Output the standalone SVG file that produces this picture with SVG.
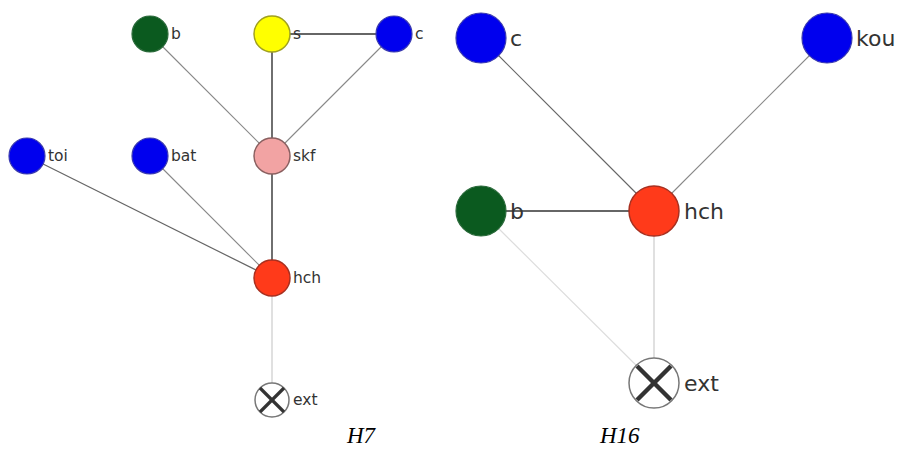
<svg xmlns="http://www.w3.org/2000/svg" width="901" height="449" viewBox="0 0 901 449">
<style>
.lbl{font-family:"DejaVu Sans",sans-serif;fill:#333}
.l1{font-size:15.5px}
.l2{font-size:22px}
.cap{font-family:"Liberation Serif",serif;font-style:italic;font-size:23px;fill:#000}
.blue{fill:#0000ee;stroke:#3a3ab0;stroke-width:1.2}
.green{fill:#0b5a1f;stroke:#2a6a3a;stroke-width:1.2}
.yellow{fill:#ffff00;stroke:#a0a020;stroke-width:1.5}
.pink{fill:#f2a3a3;stroke:#8a6060;stroke-width:1.5}
.red{fill:#ff3a1a;stroke:#a83020;stroke-width:1.5}
.ext{fill:#fff;stroke:#777;stroke-width:1.5}
.x{stroke:#333;stroke-width:3.2;stroke-linecap:butt}
.e-dark{stroke:#333;stroke-width:1.4}
.e-mid{stroke:#666;stroke-width:1.2}
.e-gray{stroke:#888;stroke-width:1.1}
.e-light{stroke:#ccc;stroke-width:1.2}
.e-vlight{stroke:#ddd;stroke-width:1.2}
</style>
<rect width="901" height="449" fill="#fff"/>
<g id="connectors">
<line class="e-gray" x1="150" y1="34" x2="272" y2="156"/>
<line class="e-dark" x1="272" y1="34" x2="272" y2="156"/>
<line class="e-gray" x1="394" y1="34" x2="272" y2="156"/>
<line class="e-dark" x1="272" y1="34" x2="394" y2="34"/>
<line class="e-dark" x1="272" y1="156" x2="272" y2="278"/>
<line class="e-mid" x1="27" y1="156" x2="272" y2="278"/>
<line class="e-gray" x1="150" y1="156" x2="272" y2="278"/>
<line class="e-light" x1="272" y1="278" x2="272" y2="400"/>
<line class="e-mid" x1="481" y1="38" x2="654" y2="211"/>
<line class="e-gray" x1="827" y1="38" x2="654" y2="211"/>
<line class="e-dark" x1="481" y1="211" x2="654" y2="211"/>
<line class="e-vlight" x1="481" y1="211" x2="654" y2="383"/>
<line class="e-light" x1="654" y1="211" x2="654" y2="383"/>
</g>
<g id="h7-b"><circle class="green" cx="150" cy="34" r="18"/><text class="lbl l1" x="171" y="39">b</text></g>
<g id="h7-s"><circle class="yellow" cx="272" cy="34" r="18"/><text class="lbl l1" x="293" y="39">s</text></g>
<g id="h7-c"><circle class="blue" cx="394" cy="34" r="18"/><text class="lbl l1" x="415" y="39">c</text></g>
<g id="h7-toi"><circle class="blue" cx="27" cy="156" r="18"/><text class="lbl l1" x="48" y="161">toi</text></g>
<g id="h7-bat"><circle class="blue" cx="150" cy="156" r="18"/><text class="lbl l1" x="171" y="161">bat</text></g>
<g id="h7-skf"><circle class="pink" cx="272" cy="156" r="18"/><text class="lbl l1" x="293" y="161">skf</text></g>
<g id="h7-hch"><circle class="red" cx="272" cy="278" r="18"/><text class="lbl l1" x="293" y="283">hch</text></g>
<g id="h7-ext"><circle class="ext" cx="272" cy="400" r="17"/><line class="x" x1="260" y1="388" x2="284" y2="412"/><line class="x" x1="284" y1="388" x2="260" y2="412"/><text class="lbl l1" x="293" y="405">ext</text></g>
<g id="h16-c"><circle class="blue" cx="481" cy="38" r="25"/><text class="lbl l2" x="510" y="46">c</text></g>
<g id="h16-kou"><circle class="blue" cx="827" cy="38" r="25"/><text class="lbl l2" x="856" y="46">kou</text></g>
<g id="h16-b"><circle class="green" cx="481" cy="211" r="25"/><text class="lbl l2" x="510" y="219">b</text></g>
<g id="h16-hch"><circle class="red" cx="654" cy="211" r="25"/><text class="lbl l2" x="684" y="219">hch</text></g>
<g id="h16-ext"><circle class="ext" cx="654" cy="383" r="25"/><line class="x" x1="637" y1="366" x2="671" y2="400" style="stroke-width:4.5"/><line class="x" x1="671" y1="366" x2="637" y2="400" style="stroke-width:4.5"/><text class="lbl l2" x="684" y="391">ext</text></g>
<text class="cap" x="347" y="443">H7</text>
<text class="cap" x="600" y="443">H16</text>
</svg>
